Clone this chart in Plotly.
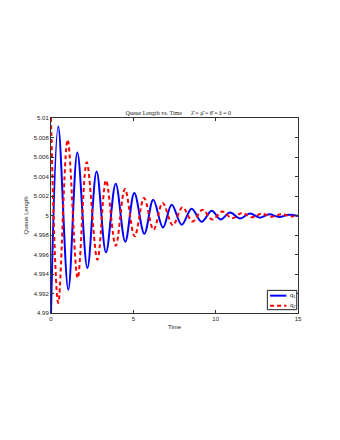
import plotly.graph_objects as go

# values (turning points of each curve)
t_q1 = [0, 0.44, 1.05, 1.60, 2.21, 2.77, 3.34, 3.93, 4.51, 5.06, 5.67, 6.21, 6.80,
        7.33, 7.94, 8.54, 9.15, 9.76, 10.30, 10.87, 11.48, 12.08, 12.69, 13.25,
        13.85, 14.45, 15.0]
q1 = [4.9900, 5.00914, 4.99239, 5.00647, 4.99462, 5.00452, 4.99622, 5.00326,
      4.99731, 5.00231, 4.99813, 5.00162, 4.99877, 5.00111, 4.99906, 5.00070,
      4.99935, 5.00050, 4.99960, 5.00030, 4.99970, 5.00020, 4.99978, 5.00012,
      4.99985, 5.00008, 4.99995]

t_q2 = [0, 0.44, 1.01, 1.62, 2.17, 2.82, 3.34, 3.93, 4.49, 5.08, 5.65, 6.23, 6.78,
        7.40, 7.98, 8.60, 9.20, 9.80, 10.40, 11.00, 11.60, 12.20, 12.80, 13.40,
        14.00, 14.60, 15.0]
q2 = [5.0100, 4.99103, 5.00777, 4.99359, 5.00545, 4.99547, 5.00360, 4.99690,
      5.00272, 4.99786, 5.00179, 4.99854, 5.00128, 4.99900, 5.00085, 4.99938,
      5.00058, 4.99958, 5.00040, 4.99972, 5.00027, 4.99981, 5.00019, 4.99987,
      5.00013, 4.99991, 5.00003]

y_ticks = [4.99, 4.992, 4.994, 4.996, 4.998, 5.0, 5.002, 5.004, 5.006, 5.008, 5.01]
y_labels = ["4.99", "4.992", "4.994", "4.996", "4.998", "5", "5.002", "5.004",
            "5.006", "5.008", "5.01"]
x_ticks = [0, 5, 10, 15]
names = ["q<sub>1</sub>", "q<sub>2</sub>"]
colors = ["rgb(0,0,255)", "rgb(255,0,0)"]
dashes = ["solid", "4px,3px"]

fig = go.Figure()
fig.add_trace(go.Scatter(x=t_q1, y=q1, mode="lines", name=names[0],
                         line=dict(color=colors[0], width=2, dash=dashes[0],
                                   shape="spline", smoothing=1.0)))
fig.add_trace(go.Scatter(x=t_q2, y=q2, mode="lines", name=names[1],
                         line=dict(color=colors[1], width=2, dash=dashes[1],
                                   shape="spline", smoothing=1.0)))

axis_style = dict(showline=True, linecolor="#333", linewidth=1, mirror="ticks",
                  ticks="inside", ticklen=3, tickcolor="#333", showgrid=False,
                  zeroline=False, tickfont=dict(size=6, color="#222"))

fig.update_xaxes(range=[0, 15], tickvals=x_ticks,
                 title=dict(text="Time", font=dict(size=6, color="#222"), standoff=3),
                 **axis_style)
fig.update_yaxes(range=[4.99, 5.01], tickvals=y_ticks, ticktext=y_labels,
                 title=dict(text="Queue Length", font=dict(size=6, color="#222"),
                            standoff=4),
                 **axis_style)

# compact MATLAB-style legend box in the lower right corner
fig.add_shape(type="rect", xref="paper", yref="paper", x0=0.876, x1=0.995,
              y0=0.017, y1=0.116, line=dict(color="#222", width=1),
              fillcolor="white", layer="above")
for i, yy in enumerate([0.089, 0.037]):
    fig.add_shape(type="line", xref="paper", yref="paper", x0=0.887, x1=0.953,
                  y0=yy, y1=yy, line=dict(color=colors[i], width=2, dash=dashes[i]),
                  layer="above")
    fig.add_annotation(xref="paper", yref="paper", x=0.958, y=yy, text=names[i],
                       showarrow=False, xanchor="left", yanchor="middle",
                       font=dict(size=6, color="#222"))

fig.update_layout(
    width=332, height=432,
    margin=dict(l=43, r=42, t=110, b=127),
    paper_bgcolor="white", plot_bgcolor="white",
    font=dict(family="Liberation Sans", size=6, color="#222"),
    title=dict(text="Queue Length vs. Time      λ\u0302 = μ\u0302 = θ\u0302 = a\u0302 = 0",
               font=dict(family="Liberation Serif", size=6, color="#222"),
               x=0.513, xanchor="center", y=1 - 104.5 / 432, yanchor="middle"),
    showlegend=False,
)

fig.write_html("out.html")
